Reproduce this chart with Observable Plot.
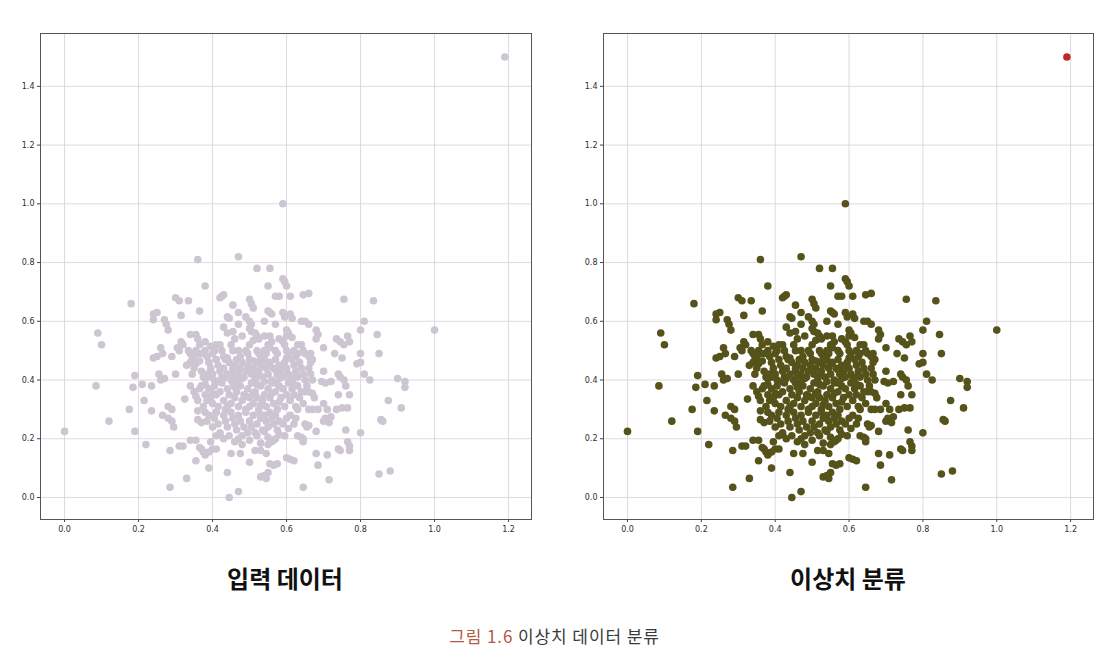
<!DOCTYPE html>
<html>
<head>
<meta charset="utf-8">
<script src="https://cdn.jsdelivr.net/npm/d3@7"></script>
<script src="https://cdn.jsdelivr.net/npm/@observablehq/plot@0.6"></script>
<style>
  html, body { margin: 0; padding: 0; background: #fff; }
  #page { position: relative; width: 1109px; height: 658px; overflow: hidden; background: #fff; }
  .panel { position: absolute; top: 0; }
  .title { position: absolute; width: 570px; text-align: center; font-family: "Noto Sans CJK KR", sans-serif; font-weight: 700; font-size: 24px; color: #111; }
  #caption { position: absolute; left: 0; width: 1109px; top: 623px; text-align: center; font-family: "Noto Sans CJK KR", sans-serif; font-size: 17px; letter-spacing: 0.9px; color: #3a3a3a; }
  #caption .fig { color: #b25a48; }
</style>
</head>
<body>
<div id="page">
  <div id="left" class="panel" style="left:0px"></div>
  <div id="right" class="panel" style="left:555px"></div>
  <div class="title" id="t0" style="left:0px; top:560px"></div>
  <div class="title" id="t1" style="left:563px; top:560px"></div>
  <div id="caption"><span class="fig">그림 1.6</span> 이상치 데이터 분류</div>
</div>
<script>
// ---- tick labels ----
const xTicks = [0.0, 0.2, 0.4, 0.6, 0.8, 1.0, 1.2];
const yTicks = [0.0, 0.2, 0.4, 0.6, 0.8, 1.0, 1.2, 1.4];

// ---- panel titles ----
const panelTitles = ["입력 데이터", "이상치 분류"];

// ---- detected outlier (red in right panel) ----
const outlierPoints = [[1.19, 1.5]];

// ---- regular points ----
const edgePoints = [
  [0.59,1.0],[1.0,0.57],
  [0.0,0.225],[0.085,0.38],[0.09,0.56],[0.10,0.52],[0.12,0.26],[0.175,0.30],[0.18,0.66],[0.185,0.375],
  [0.19,0.415],[0.19,0.225],[0.21,0.385],[0.215,0.33],[0.22,0.18],[0.235,0.38],[0.235,0.295],[0.24,0.625],
  [0.25,0.63],[0.24,0.605],[0.24,0.475],[0.25,0.48],[0.26,0.51],[0.265,0.49],[0.255,0.42],[0.26,0.40],
  [0.27,0.405],[0.27,0.605],[0.275,0.59],[0.28,0.57],[0.265,0.28],[0.28,0.27],[0.29,0.26],[0.295,0.24],
  [0.28,0.31],[0.29,0.30],[0.285,0.16],[0.285,0.035],[0.29,0.48],[0.30,0.42],[0.30,0.68],[0.31,0.67],
  [0.305,0.51],[0.31,0.50],[0.315,0.53],[0.32,0.52],[0.315,0.62],[0.31,0.175],[0.32,0.175],[0.325,0.335],
  [0.33,0.065],[0.335,0.67],[0.34,0.555],[0.355,0.555],[0.34,0.195],[0.355,0.195],[0.355,0.125],[0.36,0.81],
  [0.365,0.635],[0.38,0.72],[0.47,0.82],[0.52,0.78],[0.555,0.78],[0.55,0.72],[0.59,0.745],[0.595,0.735],
  [0.60,0.72],[0.42,0.68],[0.425,0.685],[0.43,0.69],[0.57,0.685],[0.58,0.685],[0.61,0.685],[0.645,0.69],
  [0.66,0.695],[0.755,0.675],[0.835,0.67],[0.455,0.655],[0.50,0.675],[0.505,0.66],[0.51,0.645],[0.47,0.63],
  [0.44,0.615],[0.445,0.61],[0.49,0.615],[0.50,0.60],[0.505,0.59],[0.55,0.635],[0.555,0.63],[0.56,0.625],
  [0.59,0.63],[0.595,0.615],[0.54,0.60],[0.61,0.625],[0.615,0.61],[0.64,0.60],[0.65,0.60],[0.66,0.59],
  [0.81,0.60],[0.68,0.57],[0.685,0.555],[0.80,0.57],
  [0.36,0.295],[0.36,0.265],[0.37,0.255],[0.365,0.17],[0.37,0.165],[0.375,0.155],[0.38,0.145],[0.39,0.155],
  [0.39,0.10],[0.395,0.19],[0.40,0.165],[0.41,0.165],[0.41,0.21],[0.42,0.215],[0.44,0.085],[0.445,0.0],
  [0.45,0.15],[0.47,0.02],[0.475,0.15],[0.50,0.12],[0.515,0.16],[0.53,0.16],[0.53,0.07],[0.54,0.075],
  [0.545,0.065],[0.55,0.085],[0.545,0.15],[0.555,0.115],[0.565,0.11],[0.575,0.115],[0.55,0.18],[0.56,0.19],
  [0.565,0.195],[0.57,0.20],[0.60,0.135],[0.61,0.13],[0.62,0.125],[0.645,0.035],[0.68,0.15],[0.685,0.11],
  [0.71,0.145],[0.715,0.06],[0.74,0.165],[0.745,0.16],[0.77,0.175],[0.77,0.16],[0.765,0.19],[0.76,0.23],
  [0.80,0.22],[0.85,0.08],[0.88,0.09],[0.875,0.33],[0.855,0.265],[0.86,0.26],[0.91,0.305],[0.90,0.405],
  [0.92,0.395],[0.92,0.375],[0.825,0.40],[0.81,0.42],[0.79,0.455],[0.80,0.46],[0.80,0.49],[0.85,0.49],
  [0.845,0.555],[0.765,0.55],[0.77,0.53],[0.735,0.54],[0.745,0.53],[0.755,0.52],[0.73,0.49],[0.75,0.475],
  [0.70,0.51],[0.68,0.54],[0.67,0.47],[0.665,0.46],[0.70,0.43],[0.695,0.395],[0.705,0.39],[0.72,0.395],
  [0.74,0.42],[0.745,0.41],[0.755,0.40],[0.76,0.38],[0.74,0.35],[0.77,0.35],[0.735,0.30],[0.75,0.305],
  [0.765,0.305],[0.70,0.32],[0.71,0.30],[0.705,0.27],[0.72,0.275],[0.715,0.255],[0.70,0.26],[0.68,0.225],
  [0.66,0.30],[0.67,0.30],[0.685,0.30],[0.65,0.36],[0.66,0.36],[0.67,0.355],[0.675,0.34],[0.65,0.25],
  [0.66,0.245],[0.655,0.24],[0.63,0.21],[0.64,0.205],[0.645,0.20],[0.645,0.19],[0.62,0.25],[0.63,0.30],
  [0.60,0.27],[0.605,0.235]
];

const coreUpper = [
  [0.44,0.56],[0.455,0.565],[0.48,0.55],[0.50,0.575],[0.505,0.565],[0.515,0.56],[0.52,0.55],[0.525,0.54],
  [0.54,0.55],[0.555,0.55],[0.56,0.53],[0.60,0.57],[0.605,0.56],[0.60,0.55],[0.615,0.545],[0.63,0.52],
  [0.43,0.58],[0.47,0.59],[0.57,0.59],[0.36,0.54],[0.38,0.53],
  [0.335,0.50],[0.34,0.49],[0.345,0.48],[0.35,0.47],[0.355,0.50],[0.36,0.49],[0.37,0.49],[0.38,0.50],
  [0.385,0.48],[0.40,0.49],[0.405,0.50],[0.41,0.52],[0.42,0.52],[0.425,0.50],[0.43,0.48],[0.435,0.47],
  [0.45,0.52],[0.455,0.50],[0.47,0.50],[0.475,0.48],[0.49,0.50],[0.495,0.49],[0.50,0.52],[0.52,0.50],
  [0.525,0.49],[0.53,0.48],[0.54,0.50],[0.545,0.49],[0.55,0.52],[0.555,0.51],[0.57,0.50],[0.575,0.49],
  [0.59,0.53],[0.595,0.52],[0.60,0.50],[0.605,0.49],[0.62,0.50],[0.625,0.48],[0.63,0.49],[0.64,0.52],
  [0.645,0.50],[0.65,0.49],[0.66,0.48],[0.665,0.49],[0.46,0.54],[0.51,0.535],[0.58,0.54],[0.395,0.515],
  [0.365,0.52]
];

const coreMiddle = [
  [0.33,0.45],[0.34,0.46],[0.35,0.44],[0.355,0.455],[0.365,0.465],[0.37,0.43],[0.375,0.41],[0.385,0.42],
  [0.39,0.46],[0.395,0.44],[0.40,0.42],[0.405,0.40],[0.41,0.47],[0.415,0.45],[0.42,0.43],[0.425,0.41],
  [0.43,0.44],[0.44,0.42],[0.445,0.46],[0.45,0.40],[0.455,0.43],[0.46,0.45],[0.465,0.47],[0.47,0.42],
  [0.475,0.44],[0.48,0.46],[0.485,0.41],[0.49,0.43],[0.495,0.45],[0.50,0.47],[0.505,0.42],[0.51,0.44],
  [0.515,0.40],[0.52,0.46],[0.525,0.43],[0.53,0.45],[0.535,0.41],[0.54,0.47],[0.545,0.44],[0.55,0.42],
  [0.555,0.46],[0.56,0.40],[0.565,0.44],[0.57,0.47],[0.575,0.42],[0.58,0.45],[0.585,0.43],[0.59,0.41],
  [0.595,0.46],[0.60,0.44],[0.605,0.42],[0.61,0.40],[0.615,0.47],[0.62,0.45],[0.625,0.43],[0.63,0.41],
  [0.635,0.46],[0.64,0.44],[0.645,0.42],[0.65,0.40],[0.66,0.44],[0.665,0.42],[0.67,0.40],[0.38,0.405],
  [0.43,0.405],[0.48,0.405],[0.53,0.47],[0.58,0.405],[0.39,0.41],[0.62,0.41],[0.44,0.475],[0.52,0.415],
  [0.57,0.435],[0.345,0.42],[0.60,0.475],[0.46,0.415],[0.51,0.465],[0.55,0.455],[0.50,0.44],[0.455,0.44],
  [0.59,0.44]
];

const coreLower = [
  [0.34,0.38],[0.35,0.36],[0.355,0.345],[0.36,0.33],[0.365,0.37],[0.37,0.38],[0.375,0.31],[0.38,0.35],
  [0.385,0.33],[0.39,0.37],[0.395,0.34],[0.40,0.32],[0.405,0.38],[0.41,0.35],[0.415,0.31],[0.42,0.36],
  [0.425,0.39],[0.43,0.33],[0.435,0.30],[0.44,0.37],[0.445,0.35],[0.45,0.32],[0.455,0.39],[0.46,0.34],
  [0.465,0.36],[0.47,0.31],[0.475,0.38],[0.48,0.33],[0.485,0.35],[0.49,0.30],[0.495,0.37],[0.50,0.34],
  [0.505,0.39],[0.51,0.32],[0.515,0.36],[0.52,0.34],[0.525,0.30],[0.53,0.38],[0.535,0.33],[0.54,0.35],
  [0.545,0.31],[0.55,0.37],[0.555,0.34],[0.56,0.39],[0.565,0.32],[0.57,0.36],[0.575,0.30],[0.58,0.38],
  [0.585,0.34],[0.59,0.37],[0.595,0.31],[0.60,0.35],[0.605,0.39],[0.61,0.33],[0.615,0.37],[0.62,0.35],
  [0.625,0.31],[0.63,0.38],[0.635,0.34],[0.64,0.36],[0.645,0.32],[0.655,0.38],[0.42,0.395],[0.47,0.395],
  [0.52,0.385],[0.57,0.39],[0.44,0.31],[0.53,0.315],[0.56,0.355],[0.50,0.31],[0.46,0.375],[0.51,0.355],
  [0.40,0.355],[0.58,0.325],[0.49,0.345],[0.54,0.395],[0.38,0.385],[0.62,0.385],
  [0.38,0.29],[0.385,0.26],[0.39,0.28],[0.40,0.24],[0.405,0.27],[0.41,0.29],[0.415,0.25],[0.42,0.22],
  [0.43,0.28],[0.435,0.26],[0.44,0.24],[0.445,0.21],[0.45,0.29],[0.455,0.27],[0.46,0.25],[0.465,0.23],
  [0.47,0.28],[0.475,0.26],[0.48,0.21],[0.485,0.24],[0.49,0.29],[0.495,0.22],[0.50,0.26],[0.505,0.24],
  [0.51,0.28],[0.515,0.22],[0.52,0.25],[0.525,0.29],[0.53,0.27],[0.535,0.23],[0.54,0.28],[0.545,0.26],
  [0.55,0.24],[0.555,0.29],[0.56,0.27],[0.565,0.25],[0.57,0.28],[0.575,0.23],[0.58,0.26],[0.59,0.25],
  [0.595,0.21],[0.61,0.28],[0.625,0.27],[0.47,0.20],[0.52,0.21],[0.43,0.20],[0.55,0.205],[0.46,0.19],
  [0.50,0.195],[0.54,0.225],[0.58,0.215],[0.48,0.18],[0.53,0.185]
];

const inlierPoints = [...edgePoints, ...coreUpper, ...coreMiddle, ...coreLower];

const xDomain = [-0.065, 1.262];
const yDomain = [-0.075, 1.58];

function panel(points, extra, fill, mLeft, mRight) {
  return Plot.plot({
    width: 554,
    height: 545,
    marginLeft: mLeft,
    marginRight: mRight,
    marginTop: 33,
    marginBottom: 26,
    x: { domain: xDomain },
    y: { domain: yDomain },
    style: { fontFamily: "DejaVu Sans, sans-serif", fontSize: "8px", color: "#2e2e2e", background: "#fff" },
    marks: [
      Plot.gridX(xTicks, { stroke: "#d6cfdb", strokeOpacity: 1, strokeWidth: 0.8 }),
      Plot.gridY(yTicks, { stroke: "#d6cfdb", strokeOpacity: 1, strokeWidth: 0.8 }),
      Plot.axisX({ ticks: xTicks, tickFormat: d => d.toFixed(1), tickSize: 3, tickPadding: 4, label: null, stroke: "#444" }),
      Plot.axisY({ ticks: yTicks, tickFormat: d => d.toFixed(1), tickSize: 3, tickPadding: 3, label: null, stroke: "#444" }),
      Plot.dot(points, { x: d => d[0], y: d => d[1], r: 3.8, fill: fill, stroke: "none" }),
      Plot.dot(extra.pts, { x: d => d[0], y: d => d[1], r: 3.8, fill: extra.fill, stroke: "none" }),
      Plot.frame({ stroke: "#5b5259", strokeWidth: 1 })
    ]
  });
}

document.getElementById("t0").textContent = panelTitles[0];
document.getElementById("t1").textContent = panelTitles[1];

document.getElementById("left").append(
  panel(inlierPoints, { pts: outlierPoints, fill: "#cdc6d2" }, "#cdc6d2", 40, 23)
);
document.getElementById("right").append(
  panel(inlierPoints, { pts: outlierPoints, fill: "#c2281f" }, "#55521a", 48, 16)
);
</script>
</body>
</html>
